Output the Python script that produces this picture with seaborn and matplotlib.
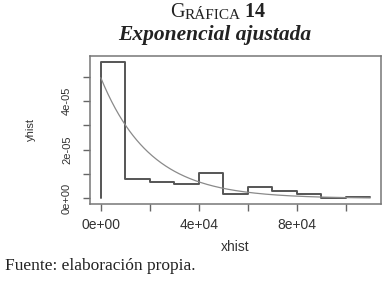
import numpy as np
import pandas as pd
import matplotlib
matplotlib.use("Agg")
import matplotlib.pyplot as plt
import seaborn as sns
from matplotlib.ticker import FixedLocator, FuncFormatter

# -------------------------------
# Data
# -------------------------------
bin_edges = [0, 1e4, 2e4, 3e4, 4e4, 5e4, 6e4, 7e4, 8e4, 9e4, 1e5, 1.1e5]
bin_density = [5.62e-05, 0.80e-05, 0.66e-05, 0.59e-05, 1.03e-05, 0.20e-05,
               0.46e-05, 0.31e-05, 0.18e-05, 0.01e-05, 0.05e-05]
fit_rate = 4.96e-05  # fitted exponential rate (density at x=0)

x_ticks = [0, 2e4, 4e4, 6e4, 8e4, 1e5]
x_labels = ["0e+00", "", "4e+04", "", "8e+04", ""]
y_ticks = [0, 1e-05, 2e-05, 3e-05, 4e-05, 5e-05]
y_labels = ["0e+00", "", "2e-05", "", "4e-05", ""]

# step line: starts at (0, 0) then steps through each bin
step_df = pd.DataFrame({
    "xhist": [0] + bin_edges[:-1] + [bin_edges[-1]],
    "yhist": [0] + bin_density + [bin_density[-1]],
})
grid = np.linspace(0, bin_edges[-1], 300)
fit_df = pd.DataFrame({"xhist": grid, "yhist": fit_rate * np.exp(-fit_rate * grid)})

# -------------------------------
# Figure
# -------------------------------
sns.set_style("ticks")
plt.rcParams["font.family"] = ["Liberation Sans", "DejaVu Sans"]

fig = plt.figure(figsize=(3.88, 2.86), dpi=100)
ax = fig.add_axes([0.232, 0.287, 0.75, 0.517])

sns.lineplot(data=step_df, x="xhist", y="yhist", drawstyle="steps-post",
             estimator=None, sort=False, color="#555555", linewidth=1.4, ax=ax)
sns.lineplot(data=fit_df, x="xhist", y="yhist", estimator=None,
             color="#8a8a8a", linewidth=0.9, ax=ax)

ax.set_xlim(-0.044e5, 1.144e5)
ax.set_ylim(-0.225e-05, 5.85e-05)

ax.xaxis.set_major_locator(FixedLocator(x_ticks))
ax.yaxis.set_major_locator(FixedLocator(y_ticks))
ax.xaxis.set_major_formatter(FuncFormatter(lambda v, p: x_labels[p] if p is not None and p < len(x_labels) else ""))
ax.yaxis.set_major_formatter(FuncFormatter(lambda v, p: y_labels[p] if p is not None and p < len(y_labels) else ""))

ax.tick_params(axis="x", length=5, width=1.0, color="#666666", labelsize=10,
               labelcolor="#333333", pad=5)
ax.tick_params(axis="y", length=5, width=1.0, color="#666666", labelsize=8,
               labelcolor="#333333", pad=8)
for lab in ax.get_yticklabels():
    lab.set_rotation(90)
    lab.set_va("center")

for s in ax.spines.values():
    s.set_visible(True)
    s.set_color("#777777")
    s.set_linewidth(1.1)

ax.set_xlabel("xhist", fontsize=10, color="#333333", labelpad=6)
ax.set_ylabel("yhist", fontsize=8, color="#333333", labelpad=19)

# -------------------------------
# Titles and source note
# -------------------------------
serif = ["Liberation Serif", "DejaVu Serif"]
t1 = fig.text(0.438, 0.955, "G", fontsize=14.5, family=serif, color="#222222",
              ha="left", va="center")
t2 = ax.annotate("RÁFICA", xy=(1, 0), xycoords=t1, fontsize=11, family=serif,
                 color="#222222", va="bottom", ha="left")
ax.annotate(" 14", xy=(1, 0), xycoords=t2, fontsize=14.5, family=serif,
            fontweight="bold", color="#222222", va="bottom", ha="left")
fig.text(0.553, 0.877, "Exponencial ajustada", fontsize=15.5, family=serif,
         style="italic", fontweight="bold", color="#222222", ha="center", va="center")
fig.text(0.013, 0.07, "Fuente: elaboración propia.", fontsize=12.5, family=serif,
         color="#222222", ha="left", va="center")

fig.savefig("out.png", dpi=100)
